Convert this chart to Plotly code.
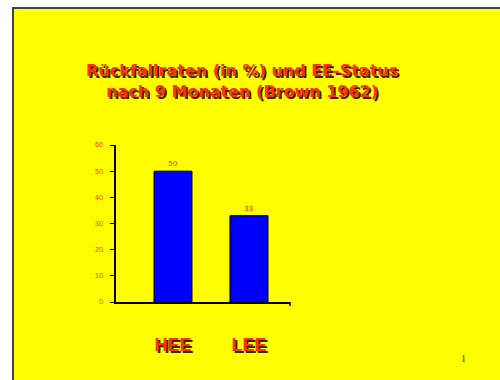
import plotly.graph_objects as go

categories = ["HEE", "LEE"]
values = [50, 33]
y_ticks = [0, 10, 20, 30, 40, 50, 60]
title_lines = ["Rückfallraten (in %) und EE-Status", "nach 9 Monaten (Brown 1962)"]
page_number = "1"

RED = "#FF3300"
SHADOW = "2px 2px 0px #3a2a00"

fig = go.Figure()
fig.add_trace(go.Bar(
    x=[0, 1], y=values, width=0.5,
    marker=dict(color="#0000FF", line=dict(color="#000000", width=1)),
    text=[str(v) for v in values], textposition="outside",
    textfont=dict(family="Liberation Sans", size=8, color=RED),
    cliponaxis=False, showlegend=False,
))

L, R, T, B = 116, 210, 145, 78
W, H = 500 - L - R, 380 - T - B

def px_x(p):
    return (p - L) / W

def px_y(p):
    return (380 - B - p) / H

fig.add_shape(type="rect", xref="paper", yref="paper",
              x0=px_x(13), x1=px_x(505), y0=px_y(8), y1=px_y(385),
              fillcolor="#FFFF00", line=dict(color="#444444", width=2), layer="below")
# small end tick on category axis
fig.add_shape(type="line", xref="paper", yref="paper",
              x0=1, x1=1, y0=0, y1=px_y(306), line=dict(color="#000000", width=1.5))

fig.add_annotation(xref="paper", yref="paper", x=px_x(242), y=px_y(81),
                   text="<br>".join(title_lines), showarrow=False,
                   font=dict(family="DejaVu Sans", size=16, color=RED, weight="bold", shadow=SHADOW),
                   align="center", xanchor="center", yanchor="middle")
fig.add_annotation(xref="paper", yref="paper", x=px_x(463), y=px_y(358),
                   text=page_number, showarrow=False,
                   font=dict(family="Liberation Serif", size=10, color="#333333"),
                   xanchor="center", yanchor="middle")

fig.update_layout(
    width=500, height=380,
    margin=dict(l=L, r=R, t=T, b=B),
    paper_bgcolor="#FFFFFF", plot_bgcolor="rgba(0,0,0,0)",
    bargap=0.5,
)
fig.update_xaxes(
    range=[-0.75, 1.54], tickvals=[0, 1], ticktext=categories,
    ticks="", showline=True, linecolor="#000000", linewidth=1.5,
    showgrid=False, zeroline=False, ticklabelstandoff=26,
    tickfont=dict(family="Liberation Sans", size=18, color=RED, weight="bold", shadow=SHADOW),
)
fig.update_yaxes(
    range=[0, 60], tickvals=y_ticks, ticks="outside", ticklen=4, tickcolor="#000000",
    showline=True, linecolor="#000000", linewidth=1.5, showgrid=False, zeroline=False,
    tickfont=dict(family="Liberation Sans", size=7, color=RED), ticklabelstandoff=6,
)

fig.write_html("out.html")
